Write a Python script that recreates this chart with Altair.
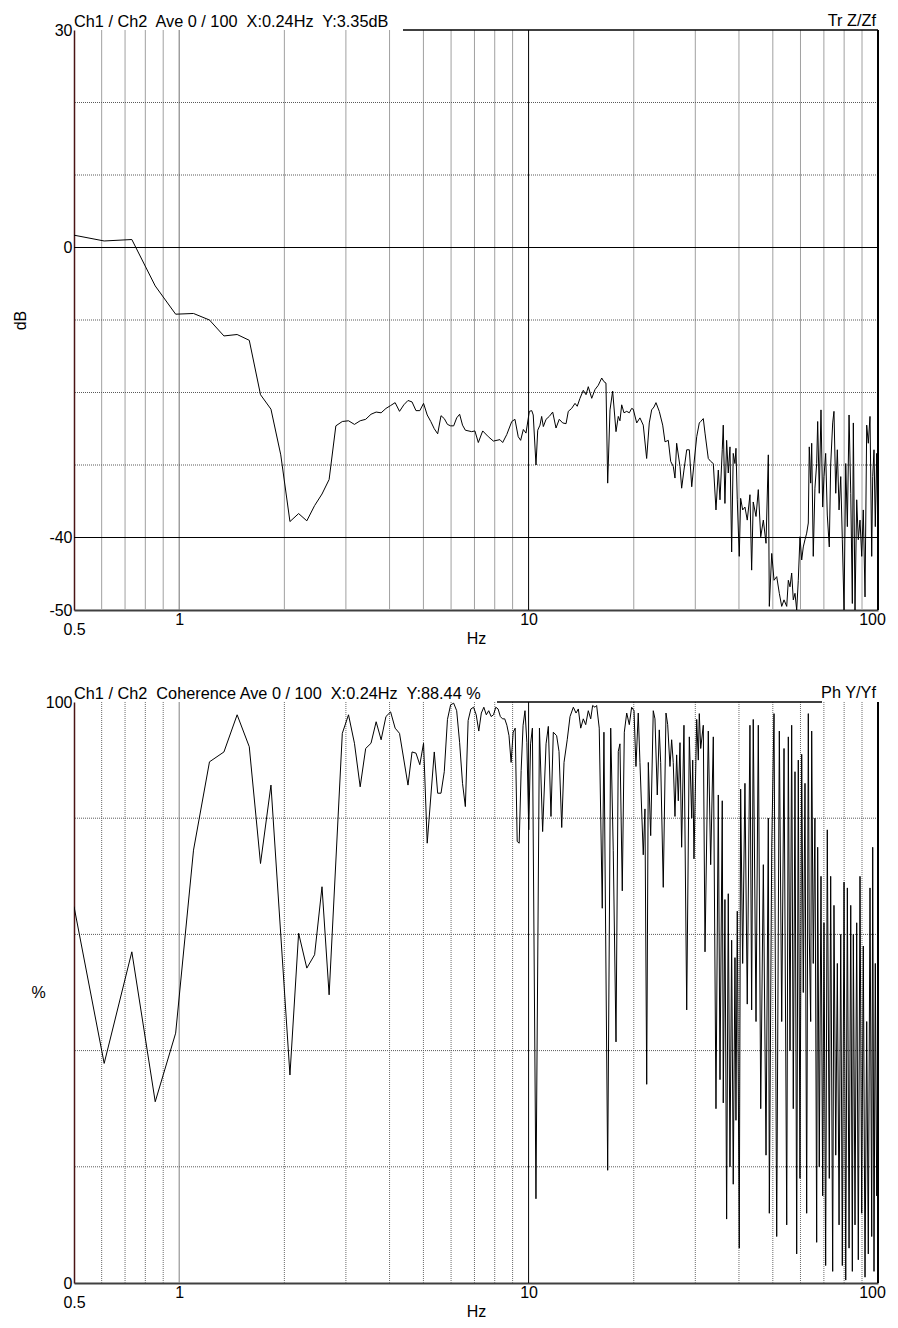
import altair as alt
import pandas as pd

FONT = "Liberation Sans"

# ---------------- data ----------------
# Top panel: transfer function magnitude (dB) vs frequency (Hz)
mag_freq = [0.5, 0.61, 0.732, 0.854, 0.977, 1.099, 1.221, 1.343, 1.465, 1.587,
            1.709, 1.831, 1.953, 2.075, 2.197, 2.319, 2.441, 2.563, 2.686, 2.808,
            2.93, 3.052, 3.174, 3.296, 3.418, 3.54, 3.662, 3.784, 3.906, 4.028,
            4.15, 4.272, 4.395, 4.517, 4.639, 4.761, 4.883, 5.005, 5.127, 5.249,
            5.371, 5.493, 5.615, 5.737, 5.859, 5.981, 6.104, 6.226, 6.348, 6.47,
            6.592, 6.87, 7.02, 7.18, 7.39, 7.67, 7.93, 8.28, 8.43, 8.66,
            8.95, 9.14, 9.34, 9.49, 9.66, 9.83, 10.05, 10.21, 10.31, 10.5,
            10.62, 10.78, 10.9, 11.02, 11.22, 11.46, 11.72, 11.98, 12.24, 12.52,
            12.8, 12.99, 13.28, 13.58, 13.78, 14.03, 14.34, 14.6, 14.82, 15.16,
            15.49, 15.83, 16.19, 16.43, 16.65, 16.84, 17.1, 17.4, 17.79, 18.06,
            18.26, 18.47, 18.75, 19.09, 19.42, 19.72, 19.93, 20.39, 20.83, 21.29,
            21.77, 22.15, 22.5, 22.85, 23.15, 23.66, 24.2, 24.57, 25.11, 25.51,
            25.95, 26.24, 26.53, 27.12, 27.42, 27.84, 28.35, 28.84, 29.3, 29.74,
            30.28, 30.8, 31.09, 31.62, 31.98, 32.68, 33.2, 33.78, 34.38, 34.91,
            35.3, 35.83, 36.07, 36.47, 36.88, 37.28, 37.7, 38.12, 38.52, 38.96,
            39.22, 39.56, 40.08, 40.45, 40.99, 41.61, 42.25, 43.01, 43.49, 43.95,
            44.76, 45.44, 46.17, 46.97, 47.81, 48.54, 48.86, 49.64, 50.4, 51.3,
            52.19, 53.02, 53.83, 54.8, 55.38, 56.0, 56.62, 57.22, 57.87, 58.52,
            59.14, 59.8, 60.48, 61.12, 61.81, 62.5, 63.17, 63.58, 64.17, 64.6,
            65.27, 65.99, 66.76, 67.2, 67.91, 68.68, 69.45, 70.05, 70.83, 71.59,
            72.54, 73.21, 74.18, 74.82, 75.69, 76.49, 77.36, 78.23, 79.05, 79.95,
            80.85, 81.71, 82.63, 83.56, 84.44, 85.0, 85.94, 86.91, 87.83, 88.82,
            89.82, 90.77, 91.8, 92.83, 93.81, 94.87, 95.94, 96.57, 97.4, 98.24,
            99.15, 100.0]
mag_db = [1.7, 0.9, 1.1, -5.3, -9.2, -9.1, -10.0, -12.2, -12.0, -12.8,
          -20.3, -22.3, -28.6, -37.8, -36.7, -37.7, -35.6, -34.0, -32.0, -24.6,
          -24.0, -23.9, -24.4, -23.9, -23.7, -23.0, -22.7, -22.8, -22.2, -21.8,
          -21.4, -22.6, -21.7, -21.1, -21.3, -22.5, -22.5, -21.5, -23.1, -24.0,
          -25.0, -25.7, -23.2, -23.6, -24.4, -24.6, -24.6, -23.5, -23.0, -24.5,
          -25.2, -25.4, -25.3, -26.9, -25.3, -26.1, -26.7, -26.5, -26.9, -25.8,
          -24.0, -23.7, -26.1, -26.6, -25.1, -25.6, -22.6, -22.5, -23.1, -30.0,
          -25.2, -24.5, -23.3, -24.7, -23.7, -23.3, -22.7, -24.9, -23.7, -24.2,
          -24.3, -22.6, -22.2, -21.5, -21.9, -20.8, -19.7, -20.3, -19.2, -20.8,
          -19.6, -19.0, -18.0, -18.5, -18.7, -32.5, -22.4, -19.8, -25.4, -23.3,
          -23.9, -21.7, -22.8, -22.6, -22.8, -22.2, -22.3, -24.2, -23.5, -24.5,
          -29.1, -24.2, -22.4, -22.0, -21.4, -22.6, -24.5, -26.8, -26.6, -29.5,
          -30.2, -31.8, -27.0, -30.2, -33.2, -30.7, -27.9, -27.9, -33.0, -29.8,
          -26.1, -24.2, -24.0, -23.6, -25.6, -29.1, -29.5, -29.8, -36.2, -30.7,
          -34.8, -27.9, -24.5, -35.3, -26.6, -31.1, -27.5, -42.0, -28.4, -29.8,
          -27.7, -34.8, -42.6, -34.6, -36.2, -35.8, -37.6, -34.1, -44.5, -35.1,
          -37.1, -33.4, -39.9, -37.6, -40.8, -28.6, -49.5, -42.2, -45.9, -45.4,
          -47.7, -49.5, -48.6, -49.5, -45.9, -46.8, -44.9, -48.6, -47.7, -50.0,
          -45.9, -39.9, -43.1, -41.3, -40.3, -39.4, -38.0, -27.5, -32.5, -27.0,
          -42.6, -33.2, -29.8, -24.0, -33.9, -22.4, -35.8, -31.6, -28.4, -36.9,
          -41.3, -30.0, -24.2, -22.6, -33.9, -27.9, -36.2, -31.6, -40.3, -50.0,
          -29.8, -38.5, -23.1, -33.9, -49.1, -24.2, -50.0, -34.8, -40.3, -37.6,
          -42.6, -36.2, -48.2, -24.5, -27.0, -23.3, -42.6, -31.6, -27.9, -38.5,
          -28.4, -40.3]

# Bottom panel: coherence (%) vs frequency (Hz)
coh_freq = [0.5, 0.61, 0.732, 0.854, 0.977, 1.099, 1.221, 1.343, 1.465, 1.587,
            1.709, 1.831, 2.075, 2.197, 2.319, 2.441, 2.563, 2.686, 2.93, 3.052,
            3.174, 3.296, 3.418, 3.54, 3.662, 3.784, 3.906, 4.028, 4.15, 4.272,
            4.517, 4.639, 4.761, 4.883, 5.005, 5.127, 5.371, 5.493, 5.615, 5.737,
            5.859, 5.981, 6.104, 6.226, 6.348, 6.47, 6.592, 6.714, 6.836, 6.958,
            7.08, 7.202, 7.324, 7.446, 7.568, 7.69, 7.813, 7.935, 8.057, 8.179,
            8.301, 8.423, 8.545, 8.667, 8.789, 8.911, 9.033, 9.155, 9.277, 9.399,
            9.521, 9.644, 9.766, 9.888, 10.01, 10.132, 10.254, 10.498, 10.742, 10.97,
            11.22, 11.39, 11.59, 11.77, 12.03, 12.22, 12.44, 12.63, 12.9, 13.14,
            13.43, 13.67, 13.88, 14.1, 14.34, 14.57, 14.82, 15.06, 15.25, 15.49,
            15.66, 15.93, 16.25, 16.43, 16.84, 17.18, 17.47, 17.79, 18.06, 18.26,
            18.54, 18.79, 19.09, 19.42, 19.72, 20.03, 20.29, 20.6, 20.83, 21.29,
            21.53, 21.78, 22.01, 22.36, 22.74, 23.0, 23.35, 23.66, 23.88, 24.29,
            24.73, 25.01, 25.39, 25.67, 25.94, 26.24, 26.53, 26.82, 27.12, 27.42,
            27.84, 28.35, 28.84, 29.3, 29.49, 29.74, 30.28, 30.6, 30.8, 31.09,
            31.62, 31.98, 32.68, 33.2, 33.78, 34.38, 34.91, 35.3, 35.83, 36.07,
            36.47, 36.88, 37.28, 37.7, 38.12, 38.52, 38.96, 39.22, 39.56, 40.08,
            40.45, 40.99, 41.61, 42.25, 43.01, 43.49, 43.95, 44.76, 45.44, 46.17,
            46.97, 47.81, 48.54, 48.86, 49.64, 50.4, 51.3, 52.19, 53.02, 53.83,
            54.8, 55.38, 56.0, 56.62, 57.22, 57.87, 58.52, 59.14, 59.8, 60.48,
            61.12, 61.81, 62.5, 63.17, 63.58, 64.17, 64.6, 65.27, 65.99, 66.76,
            67.2, 67.91, 68.68, 69.45, 70.05, 70.83, 71.59, 72.54, 73.21, 74.18,
            74.82, 75.69, 76.49, 77.36, 78.23, 79.05, 79.95, 80.85, 81.71, 82.63,
            83.56, 84.44, 85.0, 85.94, 86.91, 87.83, 88.82, 89.82, 90.77, 91.8,
            92.83, 93.81, 94.87, 95.94, 96.57, 97.4, 98.24, 99.15, 100.0]
coh_pct = [64.8, 37.8, 57.0, 31.2, 43.0, 74.5, 89.7, 91.4, 97.8, 92.3,
           72.2, 85.7, 35.8, 60.2, 54.2, 56.5, 68.2, 49.6, 94.6, 97.8,
           92.9, 85.4, 92.0, 92.9, 96.6, 93.5, 97.5, 98.3, 95.5, 94.6,
           85.7, 91.4, 91.2, 89.2, 92.9, 75.7, 91.4, 84.3, 84.3, 88.0,
           97.0, 99.5, 99.8, 98.5, 93.0, 86.0, 82.0, 96.8, 98.8, 99.1,
           97.8, 95.0, 98.1, 99.1, 97.8, 98.5, 97.5, 97.8, 99.1, 98.8,
           97.5, 97.1, 97.1, 96.0, 94.2, 89.6, 94.8, 95.5, 76.0, 75.7,
           88.2, 96.0, 98.5, 93.0, 78.0, 92.8, 95.5, 14.5, 95.5, 77.7,
           92.8, 95.8, 80.3, 94.8, 94.2, 91.5, 78.4, 89.6, 93.5, 97.5,
           99.1, 98.1, 98.8, 95.5, 97.1, 96.1, 98.5, 97.1, 99.4, 99.1,
           99.4, 95.5, 64.5, 94.8, 19.4, 95.5, 74.4, 41.5, 91.5, 92.8,
           67.5, 94.8, 98.1, 96.1, 99.1, 98.5, 88.9, 98.1, 89.6, 73.7,
           81.6, 34.2, 89.6, 77.0, 98.5, 97.1, 84.0, 95.2, 89.6, 68.1,
           98.1, 96.1, 88.9, 93.5, 89.6, 80.3, 90.9, 83.0, 93.0, 75.0,
           96.0, 47.0, 94.0, 80.0, 90.0, 73.0, 97.0, 90.0, 98.0, 92.0,
           96.0, 57.0, 95.0, 72.0, 94.0, 30.0, 84.0, 35.0, 83.0, 31.0,
           66.0, 11.0, 67.0, 20.0, 59.0, 17.0, 56.0, 28.0, 64.0, 6.0,
           85.0, 55.0, 86.0, 48.0, 96.0, 47.0, 97.0, 45.0, 96.0, 30.0,
           72.0, 22.0, 80.0, 12.0, 75.0, 98.0, 8.0, 95.0, 45.0, 92.0,
           10.0, 94.0, 40.0, 96.0, 30.0, 88.0, 5.0, 90.0, 18.0, 91.0,
           50.0, 86.0, 12.0, 98.0, 60.0, 45.0, 95.0, 55.0, 80.0, 7.0,
           75.0, 20.0, 70.0, 15.0, 62.0, 3.0, 78.0, 18.0, 70.0, 2.0,
           65.0, 22.0, 55.0, 10.0, 60.0, 3.0, 69.0, 0.5, 68.0, 6.0,
           65.0, 2.0, 60.0, 10.0, 62.0, 4.0, 70.0, 12.0, 58.0, 1.0,
           45.0, 5.0, 68.0, 8.0, 75.0, 2.0, 55.0, 15.0, 27.0]

assert len(mag_freq) == len(mag_db)
assert len(coh_freq) == len(coh_pct)

# grid positions and tick labels
minor_freqs = [0.6, 0.7, 0.8, 0.9, 2, 3, 4, 5, 6, 7, 8, 9, 20, 30, 40, 50, 60, 70, 80, 90]
one_hz = [1]
ten_hz = [10]
mag_dotted = [20, 10, -10, -20, -30]
mag_solid = [0, -40]
coh_dotted = [80, 60, 40, 20]
mag_ticks = [30, 0, -40, -50]
coh_ticks = [100, 0]
x_ticks = [0.5, 1, 10, 100]

header_mag = "Ch1 / Ch2\u00a0 Ave 0 / 100\u00a0 X:0.24Hz\u00a0 Y:3.35dB"
header_mag_r = "Tr Z/Zf"
header_coh = "Ch1 / Ch2\u00a0 Coherence Ave 0 / 100\u00a0 X:0.24Hz\u00a0 Y:88.44 %"
header_coh_r = "Ph Y/Yf"

W = 804
H1 = 580
H2 = 581

xs = alt.Scale(type="log", domain=[0.5, 100], nice=False)


def x_axis():
    return alt.Axis(values=x_ticks, title="Hz", grid=False, ticks=False, tickSize=0,
                    domainColor="#404040", domainWidth=2, format="~g",
                    labelExpr="datum.value == 0.5 ? ['', '0.5'] : datum.label",
                    labelOffset={"condition": {"test": "datum.value == 100", "value": -6}, "value": 0},
                    labelLineHeight=10, labelFont=FONT, labelFontSize=16, labelColor="black",
                    labelPadding=1, labelFlush=False, labelOverlap=False,
                    titleFont=FONT, titleFontSize=16, titleFontWeight="normal", titleColor="black",
                    titleY=28, titleBaseline="middle")


def y_axis(vals, title, tx, h, angle):
    return alt.Axis(values=vals, title=title, grid=False, ticks=False, tickSize=0,
                    domainColor="#4a1414", domainWidth=1.5,
                    labelExpr="toString(datum.value)",
                    labelFont=FONT, labelFontSize=16, labelColor="black", labelPadding=2,
                    labelFlush=False, labelOverlap=False,
                    titleFont=FONT, titleFontSize=16, titleFontWeight="normal", titleColor="black",
                    titleX=tx, titleY=h / 2, titleAngle=angle, titleAlign="center",
                    titleBaseline="middle")


def panel(freqs, vals, ydom, yticks, ytitle, tx, angle, h, hdotted, hsolid,
          vdotted, one_color, top_x0, top_x1, head_l, head_r):
    ys = alt.Scale(domain=ydom, nice=False, zero=False)
    xa = x_axis()
    ya = y_axis(yticks, ytitle, tx, h, angle)
    X = lambda f: alt.X(f + ":Q", scale=xs, axis=xa)
    Y = lambda f: alt.Y(f + ":Q", scale=ys, axis=ya)
    one = pd.DataFrame({"t": [0]})

    vminor_mark = (alt.Chart(pd.DataFrame({"freq": minor_freqs}))
                   .mark_rule(color="#6a6a6a" if vdotted else "#a0a0a0", strokeWidth=1,
                              strokeDash=[1, 1] if vdotted else [1, 0]))
    vminor = vminor_mark.encode(x=X("freq"))
    v1 = alt.Chart(pd.DataFrame({"freq": one_hz})).mark_rule(color=one_color, strokeWidth=1).encode(x=X("freq"))
    v10 = alt.Chart(pd.DataFrame({"freq": ten_hz})).mark_rule(color="black", strokeWidth=1).encode(x=X("freq"))
    hdot = (alt.Chart(pd.DataFrame({"val": hdotted}))
            .mark_rule(color="#5a5a5a", strokeWidth=1, strokeDash=[1, 1])
            .encode(y=Y("val")))
    layers = [vminor, v1, v10, hdot]
    if hsolid:
        layers.append(alt.Chart(pd.DataFrame({"val": hsolid}))
                      .mark_rule(color="black", strokeWidth=1).encode(y=Y("val")))
    df = pd.DataFrame({"freq": freqs, "val": vals, "i": list(range(len(freqs)))})
    line = (alt.Chart(df).mark_line(color="black", strokeWidth=1, clip=True)
            .encode(x=X("freq"), y=Y("val"), order=alt.Order("i:Q")))
    layers.append(line)
    # frame pieces
    layers.append(alt.Chart(one).mark_rule(color="black", strokeWidth=1.5)
                  .encode(x=alt.value(top_x0), x2=alt.value(top_x1), y=alt.value(0)))
    layers.append(alt.Chart(one).mark_rule(color="black", strokeWidth=2)
                  .encode(x=alt.value(W), y=alt.value(0), y2=alt.value(h)))
    # white anchor fixing the left/top extent of the layout
    layers.append(alt.Chart(one).mark_rule(color="white", strokeWidth=1)
                  .encode(x=alt.value(-73.5), x2=alt.value(-72.5), y=alt.value(-29.5), y2=alt.value(-28.5)))
    layers.append(alt.Chart(pd.DataFrame({"t": [head_l]}))
                  .mark_text(align="left", baseline="alphabetic", font=FONT, fontSize=16.3, color="black")
                  .encode(x=alt.value(0), y=alt.value(-3), text="t:N"))
    layers.append(alt.Chart(pd.DataFrame({"t": [head_r]}))
                  .mark_text(align="right", baseline="alphabetic", font=FONT, fontSize=16.3, color="black")
                  .encode(x=alt.value(W - 2), y=alt.value(-4), text="t:N"))
    return alt.layer(*layers).properties(width=W, height=h)


top = panel(mag_freq, mag_db, [-50, 30], mag_ticks, "dB", -54, 270, H1,
            mag_dotted, mag_solid, False, "#707070", 329, W, header_mag, header_mag_r)
bottom = panel(coh_freq, coh_pct, [0, 100], coh_ticks, "%", -36, 0, H2,
               coh_dotted, [], True, "#808080", 423, 748, header_coh, header_coh_r)

chart = (alt.vconcat(top, bottom, spacing=92, bounds="flush")
         .properties(padding=0, background="white")
         .configure_view(stroke=None))

chart.save("out.html", embed_options={"renderer": "svg", "actions": False})
